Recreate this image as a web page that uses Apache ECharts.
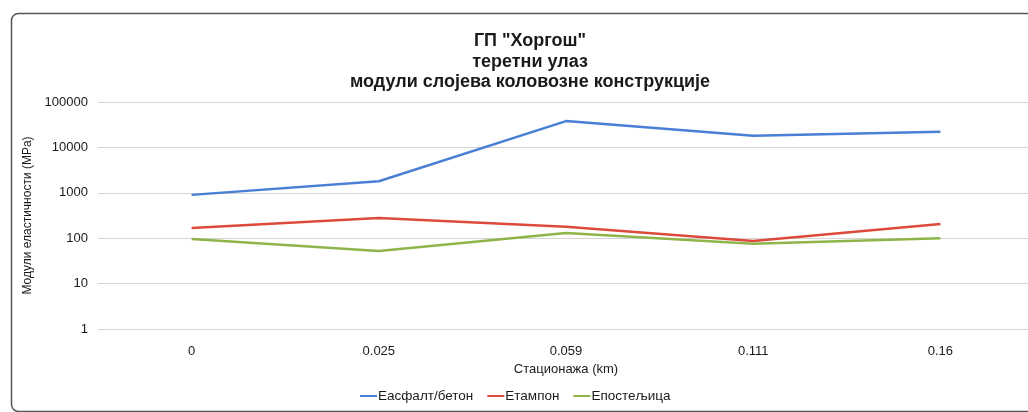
<!DOCTYPE html>
<html>
<head>
<meta charset="utf-8">
<script src="https://cdn.jsdelivr.net/npm/echarts@6/dist/echarts.min.js"></script>
<style>
  html, body { margin: 0; padding: 0; background: #fff; }
  #chart { width: 1028px; height: 412px; }
</style>
</head>
<body>
<div id="chart"></div>
<script>
// стационаже (km)
const stations = ['0', '0.025', '0.059', '0.111', '0.16'];
// модули еластичности (MPa), очитано са графика
const asphalt = [900, 1800, 38000, 18000, 22000];
const tampon = [167, 280, 178, 87, 205];
const posteljica = [96, 52, 130, 75, 100];

const chart = echarts.init(document.getElementById('chart'));

const font = 'Arial, "Liberation Sans", sans-serif';

chart.setOption({
    animation: false,
    backgroundColor: '#fff',
    textStyle: { fontFamily: font },
    graphic: [{
        type: 'rect',
        left: 9,
        top: 11,
        shape: { width: 1040, height: 398, r: 7 },
        style: { fill: 'none', stroke: '#555', lineWidth: 1.5 },
        silent: true
    }],
    title: {
        text: 'ГП "Хоргош"\nтеретни улаз\nмодули слојева коловозне конструкције',
        left: 525,
        textAlign: 'center',
        top: 26,
        textStyle: {
            fontFamily: font,
            fontSize: 18,
            fontWeight: 'bold',
            color: '#1a1a1a',
            lineHeight: 20.5
        }
    },
    legend: {
        bottom: 4,
        left: 355,
        itemWidth: 17,
        itemHeight: 2,
        itemGap: 14,
        icon: 'rect',
        textStyle: { fontFamily: font, fontSize: 13.5, color: '#1a1a1a', padding: [0, 0, 0, -4] },
        data: ['Еасфалт/бетон', 'Етампон', 'Епостељица']
    },
    grid: {
        left: 98,
        top: 102,
        width: 936,
        height: 227,
        outerBoundsMode: 'none'
    },
    xAxis: {
        type: 'category',
        data: stations,
        boundaryGap: true,
        name: 'Стационажа (km)',
        nameLocation: 'middle',
        nameGap: 31,
        nameTextStyle: { fontFamily: font, fontSize: 13, color: '#1a1a1a' },
        axisLine: { show: false },
        axisTick: { show: false },
        axisLabel: { fontFamily: font, fontSize: 13, color: '#1a1a1a', margin: 16 }
    },
    yAxis: {
        type: 'log',
        logBase: 10,
        min: 1,
        max: 100000,
        name: 'Модули еластичности (MPa)',
        nameLocation: 'middle',
        nameGap: 60,
        nameTextStyle: { fontFamily: font, fontSize: 12, color: '#1a1a1a' },
        axisLine: { show: false },
        axisTick: { show: false },
        axisLabel: {
            fontFamily: font, fontSize: 13, color: '#1a1a1a', margin: 10,
            formatter: function (v) { return String(Math.round(v)); }
        },
        splitLine: { lineStyle: { color: '#d4d4d4', width: 1 } }
    },
    series: [
        {
            name: 'Еасфалт/бетон',
            type: 'line',
            data: asphalt,
            symbol: 'none',
            color: '#4a7fd6',
            lineStyle: { width: 2.5 }
        },
        {
            name: 'Етампон',
            type: 'line',
            data: tampon,
            symbol: 'none',
            color: '#dc4a3c',
            lineStyle: { width: 2.5 }
        },
        {
            name: 'Епостељица',
            type: 'line',
            data: posteljica,
            symbol: 'none',
            color: '#8fb54a',
            lineStyle: { width: 2.5 }
        }
    ]
});
</script>
</body>
</html>
